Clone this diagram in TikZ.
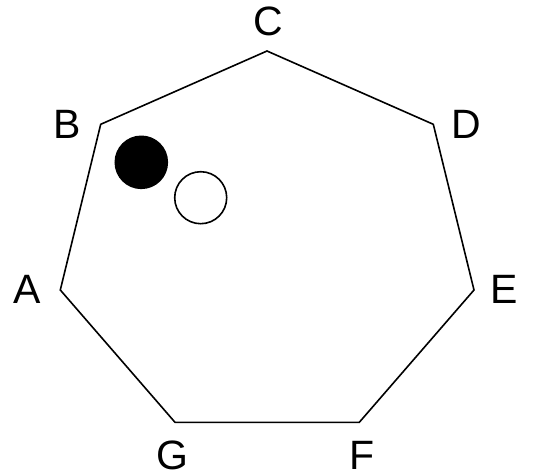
\documentclass[tikz,border=0pt]{standalone}
\usepackage{fontspec}
\setmainfont{Liberation Sans}
\usepackage{tikz}
\usetikzlibrary{positioning, calc}

\begin{document}
\begin{tikzpicture}[
  x=1pt, y=-1pt,
  vlabel/.style={inner sep=0pt, anchor=center, font=\fontsize{41}{41}\selectfont},
  edge/.style={draw=black, line width=1.6pt, line join=miter},
  stone/.style={circle, draw=black, line width=1.6pt, minimum size=52pt, inner sep=0pt}
]
  \useasboundingbox (0,0) rectangle (541,475);
  % corners of the heptagon
  \coordinate (A) at (60.3, 290);
  \coordinate (B) at (100.7, 124.3);
  \coordinate (C) at (267, 51);
  \coordinate (D) at (433.3, 124.3);
  \coordinate (E) at (474, 290);
  \coordinate (F) at (359.3, 422.3);
  \coordinate (G) at (175, 422.3);
  \draw[edge] (A) -- (B) -- (C) -- (D) -- (E) -- (F) -- (G) -- cycle;
  % labels
  \node[vlabel] (lA) at (27.3, 289.2) {A};
  \node[vlabel] (lB) at (66.8, 124.7) {B};
  \node[vlabel] (lC) at (268, 21.4) {C};
  \node[vlabel] (lD) at (466, 124.7) {D};
  \node[vlabel] (lE) at (503.8, 289.2) {E};
  \node[vlabel] (lF) at (362.5, 455) {F};
  \node[vlabel] (lG) at (172, 455) {G};
  % stones
  \node[stone, fill=black] (black) at (141.3, 162.3) {};
  \node[stone, fill=white] (white) at (200.7, 197.7) {};
\end{tikzpicture}
\end{document}
